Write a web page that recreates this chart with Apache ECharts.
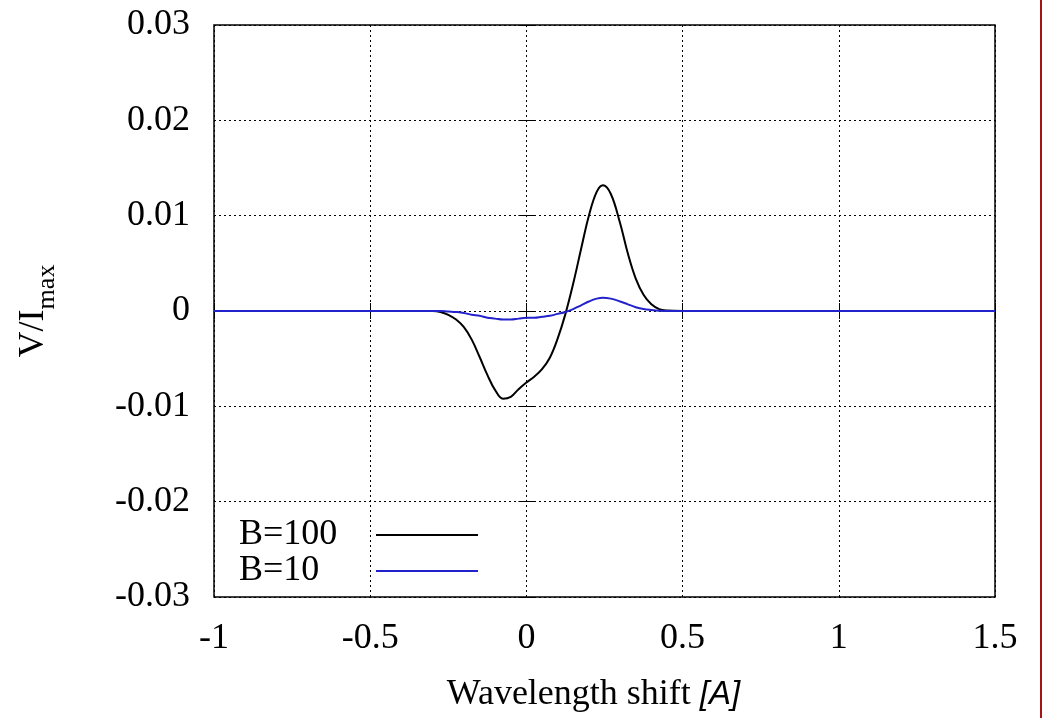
<!DOCTYPE html>
<html>
<head>
<meta charset="utf-8">
<script src="https://cdn.jsdelivr.net/npm/echarts@6/dist/echarts.min.js"></script>
<style>
  html, body { margin: 0; padding: 0; background: #fff; overflow: hidden; }
  #chart { width: 1043px; height: 718px; }
</style>
</head>
<body>
<div id="chart"></div>
<script>
// Wavelength shift samples [A]
const waveShift = [-1, -0.35, -0.3, -0.275, -0.25, -0.225, -0.2, -0.175, -0.15, -0.125, -0.1, -0.075, -0.05, -0.025,
  0, 0.025, 0.05, 0.075, 0.1, 0.125, 0.15, 0.175, 0.2, 0.225, 0.245, 0.27, 0.3, 0.325, 0.35, 0.375, 0.4, 0.425, 0.45, 0.5, 1.5];

// Stokes V / I_max for B = 100
const vB100 = [0, 0, 0, -0.0001, -0.0004, -0.0009, -0.0017, -0.003, -0.0048, -0.0067, -0.0083, -0.0092, -0.009, -0.0082,
  -0.0075, -0.0069, -0.0061, -0.0049, -0.0029, -0.0003, 0.0029, 0.0065, 0.01, 0.0125, 0.0132, 0.0123, 0.0092, 0.006, 0.0034, 0.0017, 0.0007, 0.0002, 0.00005, 0, 0];

// Stokes V / I_max for B = 10
const vB10 = [0, 0, 0, 0, -0.00005, -0.0001, -0.0002, -0.0004, -0.0005, -0.0007, -0.0008, -0.0009, -0.0009, -0.0008,
  -0.0007, -0.0007, -0.0006, -0.0005, -0.0003, -0.0001, 0.0002, 0.0006, 0.001, 0.0013, 0.0014, 0.0013, 0.001, 0.0007, 0.0004, 0.0002, 0.0001, 0.00003, 0, 0, 0];

const seriesNames = ['B=100', 'B=10'];
const xTicks = { min: -1, max: 1.5, step: 0.5 };
const yTicks = { min: -0.03, max: 0.03, step: 0.01 };

const pairs = ys => waveShift.map((x, i) => [x, ys[i]]);
const serif = 'Liberation Serif';
const fmt = v => String(parseFloat(v.toFixed(3)));

const chart = echarts.init(document.getElementById('chart'), null, { width: 1043, height: 718 });

const innerTick = { show: true, inside: true, length: 8, lineStyle: { color: '#000', width: 1 } };
const hiddenAxis = {
  axisLine: { show: false },
  axisLabel: { show: false },
  splitLine: { show: false },
  axisTick: innerTick
};

chart.setOption({
  animation: false,
  backgroundColor: '#fff',
  grid: {
    left: 214, top: 25, width: 781, height: 575,
    show: true, borderColor: '#000', borderWidth: 1.5, backgroundColor: 'transparent'
  },
  legend: {
    data: seriesNames.map(n => ({ name: n, icon: 'rect' })),
    orient: 'vertical',
    left: 234,
    top: 512,
    align: 'right',
    itemWidth: 102,
    itemHeight: 2,
    itemGap: 0,
    formatter: name => '{t|' + name + '}',
    textStyle: {
      fontFamily: serif, fontSize: 36, color: '#000',
      rich: { t: { fontFamily: serif, fontSize: 36, color: '#000', width: 132, align: 'left', lineHeight: 38 } }
    }
  },
  xAxis: [{
    type: 'value',
    min: xTicks.min, max: xTicks.max, interval: xTicks.step,
    name: 'Wavelength shift {it|[A]}',
    nameLocation: 'middle',
    nameGap: 80,
    nameTextStyle: {
      fontFamily: serif, fontSize: 36, color: '#000', padding: [0, 22, 0, 0],
      rich: { it: { fontFamily: 'Liberation Sans', fontStyle: 'italic', fontSize: 33, color: '#000' } }
    },
    axisLine: { show: false },
    axisTick: innerTick,
    axisLabel: { fontFamily: serif, fontSize: 36, color: '#000', margin: 24, formatter: fmt },
    splitLine: { show: true, lineStyle: { color: '#000', width: 1, type: [2, 3] } }
  }, Object.assign({
    type: 'value', position: 'top',
    min: xTicks.min, max: xTicks.max, interval: xTicks.step
  }, hiddenAxis)],
  yAxis: [{
    type: 'value',
    min: yTicks.min, max: yTicks.max, interval: yTicks.step,
    name: 'V/I{sub|max}',
    nameLocation: 'middle',
    nameRotate: 90,
    nameGap: 198,
    nameTextStyle: {
      fontFamily: serif, fontSize: 36, color: '#000', lineHeight: 36, verticalAlign: 'top',
      rich: { sub: { fontFamily: serif, fontSize: 26, lineHeight: 26, color: '#000', verticalAlign: 'bottom', padding: [0, 0, -8, 0] } }
    },
    axisLine: { show: false },
    axisTick: innerTick,
    axisLabel: { fontFamily: serif, fontSize: 36, color: '#000', margin: 24, formatter: fmt },
    splitLine: { show: true, lineStyle: { color: '#000', width: 1, type: [2, 3] } }
  }, Object.assign({
    type: 'value', position: 'right',
    min: yTicks.min, max: yTicks.max, interval: yTicks.step
  }, hiddenAxis)],
  series: [
    {
      name: seriesNames[0], type: 'line', data: pairs(vB100),
      smooth: 0.4, symbol: 'none',
      lineStyle: { color: '#000', width: 2 }, itemStyle: { color: '#000' }, z: 3
    },
    {
      name: seriesNames[1], type: 'line', data: pairs(vB10),
      smooth: 0.4, symbol: 'none',
      lineStyle: { color: '#2222cc', width: 2 }, itemStyle: { color: '#2222cc' }, z: 4
    }
  ],
  graphic: [{
    type: 'rect', left: 1040, top: 0,
    shape: { width: 2, height: 718 },
    style: { fill: '#a31414' }, silent: true
  }]
});
</script>
</body>
</html>
